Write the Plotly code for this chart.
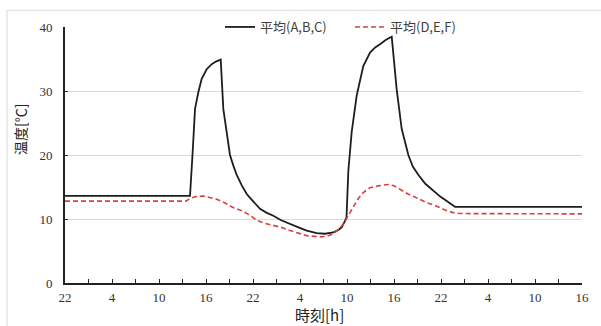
import plotly.graph_objects as go

# hours elapsed since 22:00 of the first day
t_abc = [0, 15.96, 16.3, 16.6, 17.02, 17.45, 18.09, 18.73, 19.27, 19.88, 20.21, 20.64,
         21.06, 21.5, 21.92, 22.55, 23.2, 23.62, 24.89, 25.7, 26.59, 27.6, 28.72, 29.8,
         30.86, 32.13, 33.19, 34.25, 34.9, 35.32, 35.74, 35.94, 36.17, 36.6, 37.24, 37.65,
         38.08, 38.94, 39.6, 40.21, 40.98, 41.71, 42.34, 42.98, 43.83, 44.4, 45.1, 46.0,
         47.02, 47.9, 48.73, 49.79, 66]
v_abc = [13.6, 13.6, 20.5, 27.2, 29.8, 31.9, 33.4, 34.2, 34.6, 34.9, 27.2, 23.1,
         20.0, 18.3, 16.9, 15.3, 13.9, 13.3, 11.6, 11.0, 10.5, 9.8, 9.2, 8.7,
         8.2, 7.8, 7.7, 7.9, 8.3, 8.7, 9.7, 10.3, 17.5, 23.6, 29.3, 31.8,
         33.9, 36.0, 36.8, 37.3, 38.0, 38.5, 30.3, 24.1, 20.0, 18.2, 16.9, 15.5,
         14.4, 13.5, 12.8, 11.9, 11.9]

t_def = [0, 15.45, 15.96, 16.72, 17.62, 18.5, 19.37, 20.43, 21.45, 22.56, 23.62, 24.47,
         25.53, 26.59, 27.57, 28.72, 29.74, 30.86, 32.55, 33.45, 34.25, 34.85, 35.53,
         35.96, 36.38, 36.9, 37.44, 38.04, 38.94, 40.09, 41.27, 41.99, 42.77, 43.79,
         44.9, 46.09, 47.45, 48.51, 49.53, 50.43, 66]
v_def = [12.8, 12.8, 13.2, 13.5, 13.6, 13.4, 13.1, 12.5, 11.8, 11.3, 10.6, 9.8,
         9.3, 9.0, 8.7, 8.2, 7.8, 7.4, 7.2, 7.3, 7.7, 8.3, 9.2,
         10.1, 10.8, 12.0, 13.2, 14.1, 14.9, 15.2, 15.4, 15.2, 14.6, 13.9,
         13.3, 12.6, 12.0, 11.4, 11.0, 10.85, 10.8]

tick_vals = list(range(0, 67, 3))
tick_hours = ["22", "", "4", "", "10", "", "16", "", "22", "", "4", "", "10", "", "16", "",
              "22", "", "4", "", "10", "", "16"]
y_ticks = [0, 10, 20, 30, 40]

fig = go.Figure()
fig.add_trace(go.Scatter(x=t_abc, y=v_abc, mode="lines", name="平均(A,B,C)",
                         line=dict(color="#1e1e1e", width=1.8)))
fig.add_trace(go.Scatter(x=t_def, y=v_def, mode="lines", name="平均(D,E,F)",
                         line=dict(color="#d9413f", width=1.6, dash="5px,3px")))

serif = "Liberation Serif, DejaVu Serif, serif"
cjk = "Noto Sans CJK JP, sans-serif"

fig.update_layout(
    width=601, height=326,
    margin=dict(l=65, r=19, t=24, b=43),
    paper_bgcolor="white", plot_bgcolor="white",
    showlegend=True,
    legend=dict(orientation="h", x=0.2998, y=1.0, xanchor="left", yanchor="middle",
                font=dict(family=cjk, size=13, color="#404040"),
                bgcolor="rgba(0,0,0,0)", entrywidth=85, itemwidth=30),
    xaxis=dict(range=[0, 66], tickvals=tick_vals, ticktext=tick_hours,
               ticks="inside", ticklen=4, tickwidth=1.2, tickcolor="#222",
               showline=True, linecolor="#222", linewidth=1.6, showgrid=False,
               zeroline=False, ticklabelstandoff=2,
               tickfont=dict(family=serif, size=13, color="#333")),
    yaxis=dict(range=[0, 40], tickvals=y_ticks,
               ticks="inside", ticklen=3, tickwidth=1.2, tickcolor="#222",
               showline=True, linecolor="#222", linewidth=1.6,
               showgrid=True, gridcolor="#d9d9d9", gridwidth=1, zeroline=False,
               ticklabelstandoff=8,
               tickfont=dict(family=serif, size=13, color="#333")),
    shapes=[dict(type="rect", xref="paper", yref="paper",
                 x0=-0.1122, x1=1.0445, y0=-0.1815, y1=1.0656,
                 line=dict(color="#d9d9d9", width=1), fillcolor="rgba(0,0,0,0)",
                 layer="below")],
    annotations=[
        dict(text="温度[℃]", xref="paper", yref="paper", x=-0.087, y=0.598,
             xanchor="center", yanchor="middle",
             textangle=-90, showarrow=False, font=dict(family=cjk, size=14, color="#222")),
        dict(text="時刻[h]", xref="paper", yref="paper", x=0.493, y=-0.1236,
             xanchor="center", yanchor="middle",
             showarrow=False, font=dict(family=cjk, size=15, color="#222")),
    ],
)

fig.write_html("out.html", config={"displayModeBar": False},
               post_script="document.body.style.margin='0px';")
